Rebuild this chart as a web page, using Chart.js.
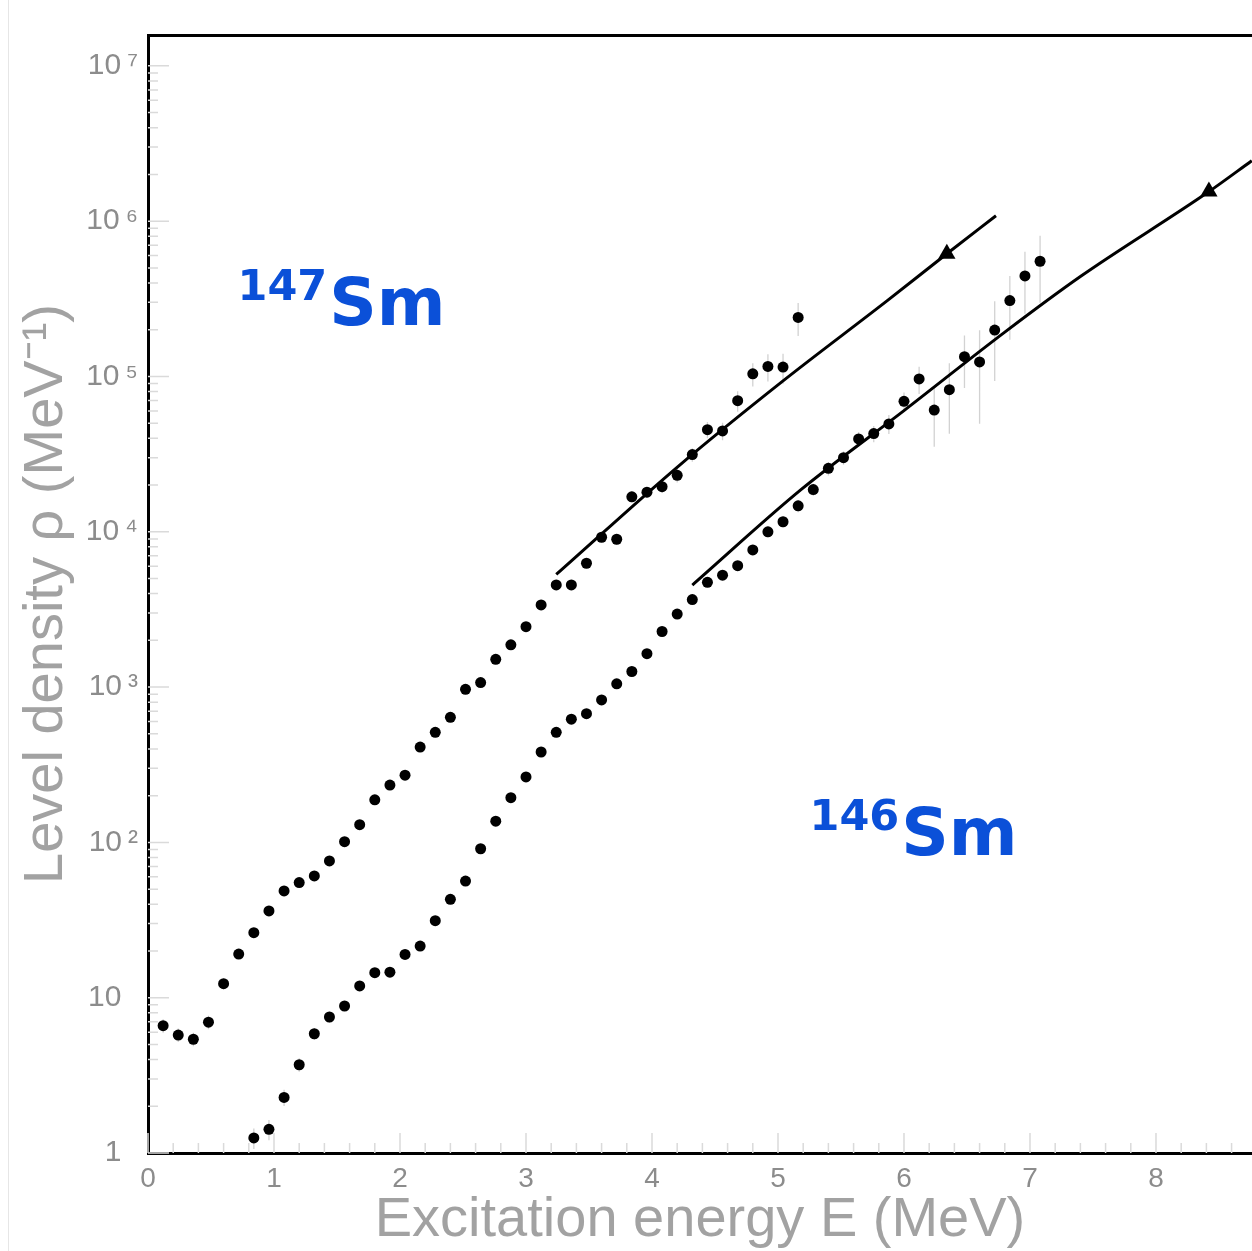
<!DOCTYPE html>
<html>
<head>
<meta charset="utf-8">
<script src="https://cdn.jsdelivr.net/npm/chart.js@4.4.1/dist/chart.umd.min.js"></script>
<style>
  body { margin: 0; background: #fff; }
  #wrap { position: relative; width: 1252px; height: 1251px; overflow: hidden; }
  #edge { position: absolute; left: 8px; top: 0; width: 1px; height: 1251px; background: #e6e6e6; }
  canvas { position: absolute; left: 0; top: 0; }
</style>
</head>
<body>
<div id="wrap">
  <div id="edge"></div>
  <canvas id="levelDensity" width="1252" height="1251"></canvas>
</div>
<script>
// 147Sm measured level density
var energy147 = [0.12, 0.24, 0.36, 0.48, 0.60, 0.72, 0.84, 0.96, 1.08, 1.20, 1.32, 1.44, 1.56, 1.68, 1.80,
    1.92, 2.04, 2.16, 2.28, 2.40, 2.52, 2.64, 2.76, 2.88, 3.00, 3.12, 3.24, 3.36, 3.48, 3.60, 3.72, 3.84,
    3.96, 4.08, 4.20, 4.32, 4.44, 4.56, 4.68, 4.80, 4.92, 5.04, 5.16];
var rho147 = [6.6, 5.75, 5.4, 6.95, 12.3, 19.1, 26.2, 36.2, 48.7, 55.1, 60.8, 75.9, 101, 130, 188,
    234, 271, 411, 511, 639, 968, 1070, 1510, 1870, 2450, 3380, 4550, 4550, 6270, 9220, 8950, 16800,
    18000, 19500, 23100, 31400, 45400, 44600, 69800, 104000, 116000, 115000, 240000];
var err147 = [0.1, 0.1, 0.1, 0.1, 0.08, 0.07, 0.07, 0.06, 0.06, 0.06, 0.05, 0.05, 0.05, 0.05, 0.05,
    0.05, 0.05, 0.05, 0.05, 0.05, 0.05, 0.05, 0.05, 0.05, 0.05, 0.05, 0.06, 0.06, 0.07, 0.07, 0.08, 0.08,
    0.08, 0.09, 0.1, 0.1, 0.12, 0.13, 0.15, 0.17, 0.2, 0.22, 0.24];

// 146Sm measured level density
var energy146 = [0.84, 0.96, 1.08, 1.20, 1.32, 1.44, 1.56, 1.68, 1.80, 1.92, 2.04, 2.16, 2.28, 2.40,
    2.52, 2.64, 2.76, 2.88, 3.00, 3.12, 3.24, 3.36, 3.48, 3.60, 3.72, 3.84, 3.96, 4.08, 4.20, 4.32,
    4.44, 4.56, 4.68, 4.80, 4.92, 5.04, 5.16, 5.28, 5.40, 5.52, 5.64, 5.76, 5.88, 6.00, 6.12, 6.24,
    6.36, 6.48, 6.60, 6.72, 6.84, 6.96, 7.08];
var rho146 = [1.25, 1.42, 2.28, 3.70, 5.86, 7.51, 8.84, 11.9, 14.5, 14.6, 19.0, 21.5, 31.3, 43.0,
    56.4, 91.0, 137, 194, 264, 382, 511, 621, 674, 826, 1050, 1260, 1640, 2280, 2950, 3660,
    4730, 5250, 6050, 7640, 10000, 11600, 14700, 18700, 25600, 30000, 39600, 42900, 49500, 69200, 96400, 60800,
    82200, 134000, 124000, 199000, 308000, 444000, 552000];
var err146 = [0.15, 0.15, 0.12, 0.1, 0.09, 0.08, 0.07, 0.07, 0.06, 0.06, 0.05, 0.05, 0.05, 0.05,
    0.05, 0.05, 0.05, 0.05, 0.05, 0.05, 0.05, 0.05, 0.05, 0.05, 0.05, 0.05, 0.05, 0.05, 0.05, 0.06,
    0.06, 0.06, 0.07, 0.07, 0.08, 0.08, 0.09, 0.09, 0.1, 0.1, 0.11, 0.12, 0.14, 0.14, 0.2, 0.42,
    0.48, 0.37, 0.6, 0.53, 0.44, 0.43, 0.46];

// model curves through the neutron resonance points
var fitE147 = [3.24, 4.22, 5.03, 5.87, 6.34, 6.73];
var fitRho147 = [5310, 26900, 92300, 309000, 617000, 1084000];
var fitE146 = [4.32, 5.18, 6.0, 6.8, 7.4, 8.42, 8.76];
var fitRho146 = [4540, 18600, 60300, 193000, 440000, 1550000, 2450000];

// resonance spacing points (triangles)
var markE = [6.34, 8.42];
var markRho = [617000, 1550000];

var xTicks = [0, 1, 2, 3, 4, 5, 6, 7, 8];
var yTicks = [1, 10, 100, 1e3, 1e4, 1e5, 1e6, 1e7];

var sup = {'0': '⁰', '1': '¹', '2': '²', '3': '³', '4': '⁴', '5': '⁵', '6': '⁶', '7': '⁷', '8': '⁸', '9': '⁹'};

function pts(xs, ys) {
    return xs.map(function (x, i) { return {x: x, y: ys[i]}; });
}

function yLabel(v) {
    var p = Math.round(Math.log10(v));
    if (p == 0) return '1\u2007';
    if (p == 1) return '10\u2007';
    return '10\u2009' + sup[String(p)];
}

// light tick marks drawn on the inside of the frame
var innerTicks = {
    id: 'innerTicks',
    beforeDatasetsDraw: function (chart) {
        var ctx = chart.ctx, a = chart.chartArea;
        var xs = chart.scales.x, ys = chart.scales.y;
        ctx.save();
        ctx.strokeStyle = '#dadada';
        ctx.lineWidth = 1.5;
        ctx.beginPath();
        for (var d = 1; d <= 1e7; d *= 10) {
            for (var m = 1; m <= 9; m++) {
                var v = d * m;
                if (v > ys.max) break;
                var py = ys.getPixelForValue(v);
                ctx.moveTo(a.left, py);
                ctx.lineTo(a.left + (m == 1 ? 21 : 10), py);
            }
        }
        for (var k = 0; k * 0.2 <= xs.max; k++) {
            var px = xs.getPixelForValue(k * 0.2);
            ctx.moveTo(px, a.bottom);
            ctx.lineTo(px, a.bottom - (k % 5 == 0 ? 20 : 10));
        }
        ctx.stroke();
        ctx.restore();
    }
};

// vertical error bars, relative errors
var errorBars = {
    id: 'errorBars',
    beforeDatasetsDraw: function (chart) {
        var ctx = chart.ctx, a = chart.chartArea;
        var xs = chart.scales.x, ys = chart.scales.y;
        var sets = [[energy147, rho147, err147], [energy146, rho146, err146]];
        ctx.save();
        ctx.beginPath();
        ctx.rect(a.left, a.top, a.right - a.left, a.bottom - a.top);
        ctx.clip();
        ctx.strokeStyle = '#d2d2d2';
        ctx.lineWidth = 1.3;
        ctx.beginPath();
        sets.forEach(function (s) {
            s[0].forEach(function (e, i) {
                var px = xs.getPixelForValue(e);
                ctx.moveTo(px, ys.getPixelForValue(s[1][i] * (1 + s[2][i])));
                ctx.lineTo(px, ys.getPixelForValue(Math.max(s[1][i] * (1 - s[2][i]), 0.5)));
            });
        });
        ctx.stroke();
        ctx.restore();
    }
};

// nucleus names
var isotopes = [
    {mass: '147', name: 'Sm', E: 0.71, rho: 2.15e5},
    {mass: '146', name: 'Sm', E: 5.25, rho: 83}
];
var isotopeLabels = {
    id: 'isotopeLabels',
    afterDatasetsDraw: function (chart) {
        var ctx = chart.ctx;
        ctx.save();
        ctx.fillStyle = '#0b50d8';
        ctx.textBaseline = 'alphabetic';
        ctx.textAlign = 'left';
        isotopes.forEach(function (n) {
            var px = chart.scales.x.getPixelForValue(n.E);
            var py = chart.scales.y.getPixelForValue(n.rho);
            ctx.font = 'bold 43px "DejaVu Sans"';
            ctx.fillText(n.mass, px, py - 25);
            var w = ctx.measureText(n.mass).width;
            ctx.font = 'bold 66px "DejaVu Sans"';
            ctx.fillText(n.name, px + w + 2, py);
        });
        ctx.restore();
    }
};

var grey = '#8c8c8c';
var titleGrey = '#a2a2a2';

// no label overhang at the ends of the energy axis
function fitX(height) {
    return function (s) {
        s.height = height;
        s.paddingLeft = 0;
        s.paddingRight = 0;
    };
}

new Chart(document.getElementById('levelDensity'), {
    type: 'scatter',
    data: {
        datasets: [
            {
                label: '147Sm',
                data: pts(energy147, rho147),
                backgroundColor: '#000',
                borderColor: '#000',
                pointRadius: 5.5,
                pointBorderWidth: 0
            },
            {
                label: '146Sm',
                data: pts(energy146, rho146),
                backgroundColor: '#000',
                borderColor: '#000',
                pointRadius: 5.5,
                pointBorderWidth: 0
            },
            {
                label: 'fit 147',
                data: pts(fitE147, fitRho147),
                showLine: true,
                borderColor: '#000',
                borderWidth: 3,
                pointRadius: 0,
                cubicInterpolationMode: 'monotone'
            },
            {
                label: 'fit 146',
                data: pts(fitE146, fitRho146),
                showLine: true,
                borderColor: '#000',
                borderWidth: 3,
                pointRadius: 0,
                cubicInterpolationMode: 'monotone'
            },
            {
                label: 'rho(Bn)',
                data: pts(markE, markRho),
                pointStyle: 'triangle',
                pointRadius: 10,
                backgroundColor: '#000',
                borderColor: '#000',
                borderWidth: 0
            }
        ]
    },
    options: {
        responsive: false,
        animation: false,
        events: [],
        layout: { padding: 0, autoPadding: false },
        plugins: {
            legend: { display: false },
            tooltip: { enabled: false }
        },
        scales: {
            x: {
                type: 'linear',
                position: 'bottom',
                min: 0,
                max: 8.762,
                afterBuildTicks: function (s) { s.ticks = xTicks.map(function (v) { return {value: v}; }); },
                afterFit: fitX(98),
                grid: { display: false, drawTicks: false },
                border: { display: true, color: '#000', width: 3 },
                ticks: {
                    padding: 9,
                    color: grey,
                    font: { family: '"Liberation Sans Narrow", "Liberation Sans"', size: 28 },
                    maxRotation: 0,
                    callback: function (v) { return String(v); }
                },
                title: {
                    display: true,
                    text: 'Excitation energy E (MeV)',
                    color: titleGrey,
                    font: { family: '"Liberation Sans Narrow", "Liberation Sans"', size: 56, lineHeight: 1.1 },
                    padding: 0
                }
            },
            xTop: {
                type: 'linear',
                position: 'top',
                min: 0,
                max: 8.762,
                afterFit: fitX(35),
                grid: { display: false, drawTicks: false },
                border: { display: true, color: '#000', width: 3 },
                ticks: { display: false }
            },
            y: {
                type: 'logarithmic',
                position: 'left',
                min: 1,
                max: 1.58e7,
                afterBuildTicks: function (s) { s.ticks = yTicks.map(function (v) { return {value: v}; }); },
                afterFit: function (s) { s.width = 148; },
                grid: { display: false, drawTicks: false },
                border: { display: true, color: '#000', width: 3 },
                ticks: {
                    padding: 10,
                    color: grey,
                    font: { family: '"Liberation Sans"', size: 30 },
                    callback: yLabel
                },
                title: {
                    display: true,
                    text: 'Level density ρ (MeV⁻¹)',
                    color: titleGrey,
                    font: { family: '"Liberation Sans Narrow", "Liberation Sans"', size: 56, lineHeight: 1.1 },
                    padding: { top: 16, bottom: 0 }
                }
            }
        }
    },
    plugins: [innerTicks, errorBars, isotopeLabels]
});
</script>
</body>
</html>
